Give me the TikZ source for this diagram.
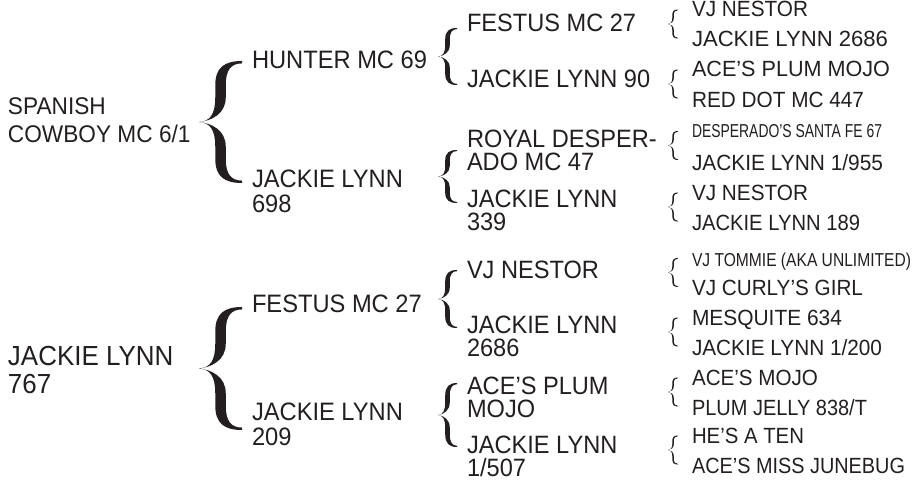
\documentclass[tikz,border=0pt]{standalone}
\usepackage{fontspec}
\setmainfont{Liberation Sans}
\newfontfamily\condsans[FakeStretch=0.94]{Liberation Sans}
\definecolor{ink}{RGB}{35,31,32}
\newcommand\twolines[2]{\vtop{\hbox{#1}\hbox{#2}}}
\newcommand\fitw[2]{\resizebox{#1pt}{\height}{#2}}
\newcommand\fitn[2]{\resizebox{#1pt}{0.85\height}{#2}}
\newcommand\cbrace[5]{%
 \pgfmathsetmacro\brX{#1}\pgfmathsetmacro\brA{#2}\pgfmathsetmacro\brB{#3}%
 \pgfmathsetmacro\brW{#4}\pgfmathsetmacro\brT{#5}%
 \pgfmathsetmacro\brM{(\brA+\brB)/2}\pgfmathsetmacro\brH{\brB-\brA}%
 \pgfmathsetmacro\brL{\brX+0.5*\brW-0.5*\brT}\pgfmathsetmacro\brR{\brX+0.5*\brW+0.5*\brT}%
 \fill[ink] (\brX,\brM) .. controls ({\brX+0.3*\brW},{\brM-0.01*\brH}) and (\brR,{\brM-0.07*\brH}) .. (\brR,{\brM-0.2*\brH})
   -- (\brR,{\brA+0.2*\brH}) .. controls (\brR,{\brA+0.07*\brH}) and ({\brX+0.75*\brW},{\brA+0.02*\brH}) .. ({\brX+\brW},{\brA+0.02*\brH})
   -- ({\brX+\brW},\brA) .. controls ({\brX+0.6*\brW},\brA) and (\brL,{\brA+0.05*\brH}) .. (\brL,{\brA+0.2*\brH})
   -- (\brL,{\brM-0.2*\brH}) .. controls (\brL,{\brM-0.06*\brH}) and ({\brX+0.25*\brW},{\brM-0.005*\brH}) .. (\brX,\brM)
   .. controls ({\brX+0.25*\brW},{\brM+0.005*\brH}) and (\brL,{\brM+0.06*\brH}) .. (\brL,{\brM+0.2*\brH})
   -- (\brL,{\brB-0.2*\brH}) .. controls (\brL,{\brB-0.05*\brH}) and ({\brX+0.6*\brW},\brB) .. ({\brX+\brW},\brB)
   -- ({\brX+\brW},{\brB-0.02*\brH}) .. controls ({\brX+0.75*\brW},{\brB-0.02*\brH}) and (\brR,{\brB-0.07*\brH}) .. (\brR,{\brB-0.2*\brH})
   -- (\brR,{\brM+0.2*\brH}) .. controls (\brR,{\brM+0.07*\brH}) and ({\brX+0.3*\brW},{\brM+0.01*\brH}) .. (\brX,\brM) -- cycle;}
\begin{document}
\begin{tikzpicture}[x=1pt,y=-1pt,
  lbl/.style={anchor=base west,inner sep=0pt,outer sep=0pt,text=ink},
  rootA/.style={lbl,font=\condsans\fontsize{24.1}{28}\selectfont},
  rootB/.style={lbl,font=\condsans\fontsize{27.6}{28}\selectfont},
  gen2/.style={lbl,font=\condsans\fontsize{25.2}{25}\selectfont},
  gen3/.style={lbl,font=\condsans\fontsize{25.1}{23}\selectfont},
  gen4/.style={lbl,font=\fontsize{22}{26}\selectfont}]
\useasboundingbox (0,0) rectangle (915,487);
% roots
\node[rootA] (r1) at (8,114) {\twolines{SPANISH}{COWBOY MC 6/1}};
\node[rootB] (r2) at (8,365) {\twolines{JACKIE LYNN}{767}};
\cbrace{199}{61}{183}{43}{10.5}
\cbrace{199}{307}{430}{43}{10.5}
% generation 2
\node[gen2] (s1) at (252,68) {HUNTER MC 69};
\node[gen2] (d1) at (252,187) {\twolines{JACKIE LYNN}{698}};
\node[gen2] (s2) at (252,312) {FESTUS MC 27};
\node[gen2] (d2) at (252,420) {\twolines{JACKIE LYNN}{209}};
\cbrace{438}{28}{85}{19}{4.6}
\cbrace{438}{150}{203}{19}{4.6}
\cbrace{438}{270}{328}{19}{4.6}
\cbrace{438}{383}{447}{19}{4.6}
% generation 3
\node[gen3] (g1) at (467,32) {FESTUS MC 27};
\node[gen3] (g2) at (467,87) {JACKIE LYNN 90};
\node[gen3] (g3) at (467,147) {\twolines{ROYAL DESPER-}{ADO MC 47}};
\node[gen3] (g4) at (467,207) {\twolines{JACKIE LYNN}{339}};
\node[gen3] (g5) at (467,278) {VJ NESTOR};
\node[gen3] (g6) at (467,333) {\twolines{JACKIE LYNN}{2686}};
\node[gen3] (g7) at (467,394) {\twolines{ACE’S PLUM}{MOJO}};
\node[gen3] (g8) at (467,453) {\twolines{JACKIE LYNN}{1/507}};
% generation 4 braces
\cbrace{668}{9.5}{38.5}{10}{1.5}
\cbrace{668}{69.5}{98.5}{10}{1.5}
\cbrace{668}{131}{160}{10}{1.5}
\cbrace{668}{192.5}{221.5}{10}{1.5}
\cbrace{668}{258}{287}{10}{1.5}
\cbrace{668}{317.5}{346.5}{10}{1.5}
\cbrace{668}{377.5}{406.5}{10}{1.5}
\cbrace{668}{435.5}{464.5}{10}{1.5}
% generation 4
\node[gen4] (a1) at (692,17) {\fitw{116}{VJ NESTOR}};
\node[gen4] (a2) at (692,47) {\fitw{196}{JACKIE LYNN 2686}};
\node[gen4] (a3) at (692,77) {\fitw{198}{ACE’S PLUM MOJO}};
\node[gen4] (a4) at (692,107) {\fitw{172}{RED DOT MC 447}};
\node[gen4] (a5) at (692,137) {\fitn{190}{DESPERADO’S SANTA FE 67}};
\node[gen4] (a6) at (692,170) {\fitw{191}{JACKIE LYNN 1/955}};
\node[gen4] (a7) at (692,200) {\fitw{116}{VJ NESTOR}};
\node[gen4] (a8) at (692,230) {\fitw{168}{JACKIE LYNN 189}};
\node[gen4] (a9) at (692,266) {\fitn{219}{VJ TOMMIE (AKA UNLIMITED)}};
\node[gen4] (a10) at (692,295) {\fitw{171}{VJ CURLY’S GIRL}};
\node[gen4] (a11) at (692,325) {\fitw{150}{MESQUITE 634}};
\node[gen4] (a12) at (692,355) {\fitw{190}{JACKIE LYNN 1/200}};
\node[gen4] (a13) at (692,385) {\fitw{126}{ACE’S MOJO}};
\node[gen4] (a14) at (692,415) {\fitw{175}{PLUM JELLY 838/T}};
\node[gen4] (a15) at (692,443) {\fitw{112}{HE’S A TEN}};
\node[gen4] (a16) at (692,473) {\fitw{213}{ACE’S MISS JUNEBUG}};
\end{tikzpicture}
\end{document}
